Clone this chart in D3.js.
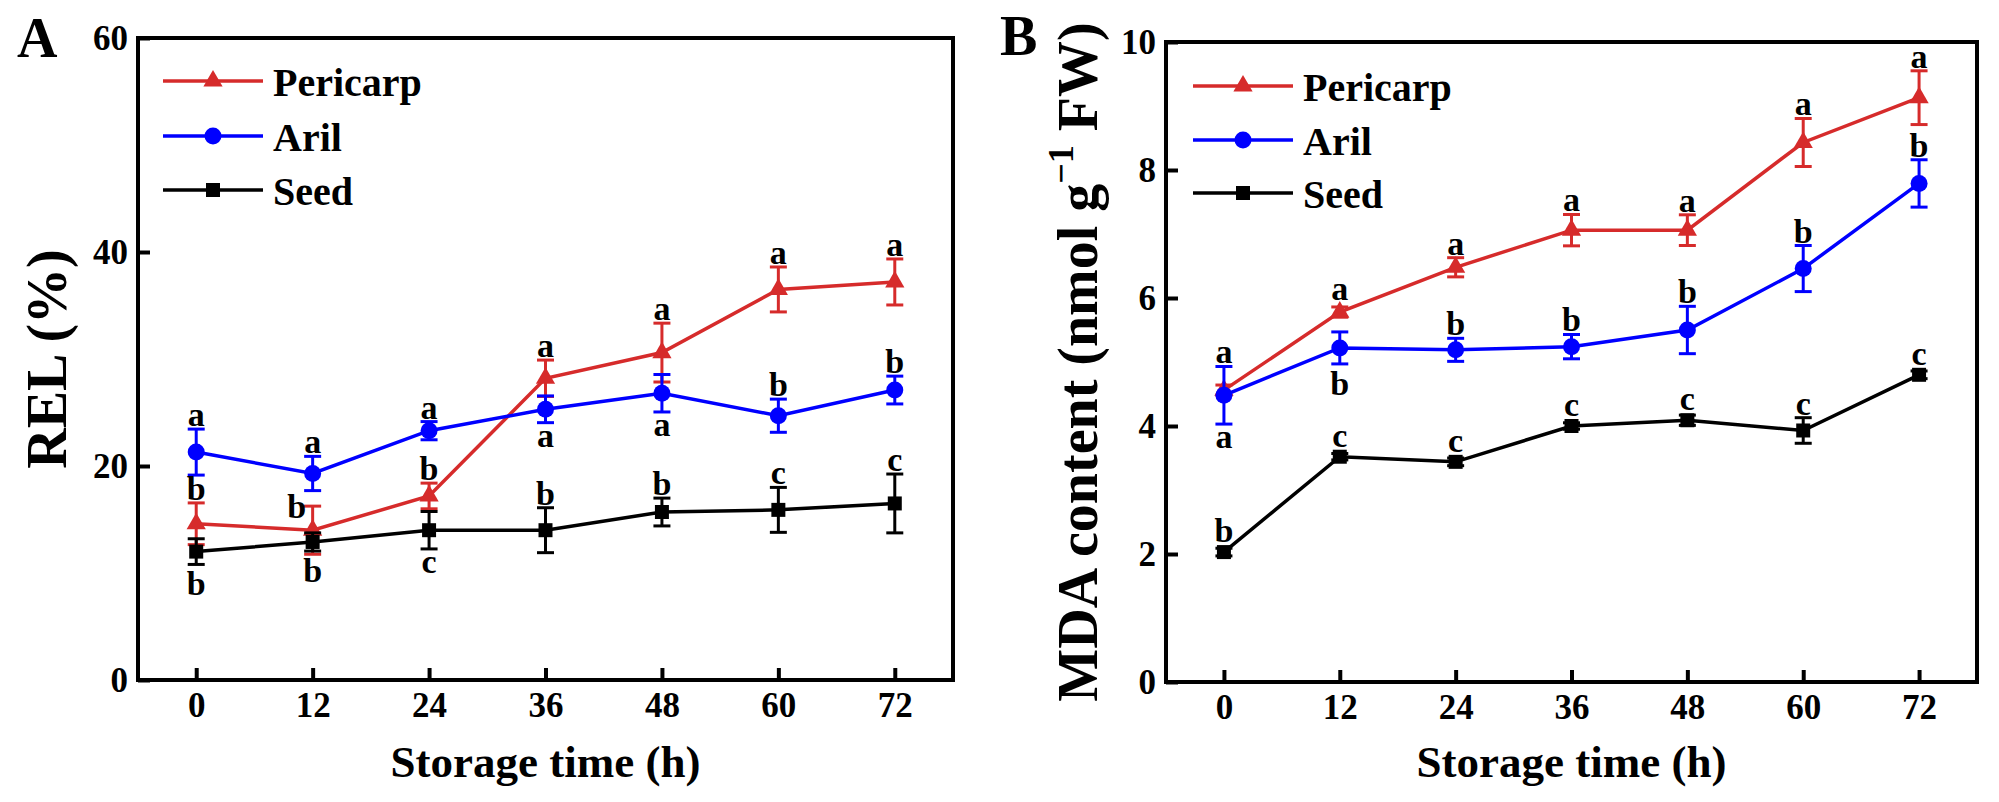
<!DOCTYPE html>
<html>
<head>
<meta charset="utf-8">
<script src="https://cdn.jsdelivr.net/npm/d3@7"></script>
<style>
body { margin: 0; background: #fff; }
text { font-family: "Liberation Serif", "Times New Roman", serif; font-weight: bold; fill: #000; }
</style>
</head>
<body>
<svg id="chart" width="1999" height="802"></svg>
<script>
var hours = [0, 12, 24, 36, 48, 60, 72];
var seriesNames = ["Pericarp", "Aril", "Seed"];

// panel A, REL (%)
var relPericarp = [14.6, 14.0, 17.2, 28.2, 30.6, 36.5, 37.2];
var relPericarpErr = [1.95, 2.25, 1.2, 1.7, 2.75, 2.1, 2.15];
var relAril = [21.3, 19.3, 23.3, 25.3, 26.8, 24.7, 27.1];
var relArilErr = [2.15, 1.6, 0.85, 1.25, 1.75, 1.55, 1.3];
var relSeed = [12.0, 12.9, 14.0, 14.0, 15.7, 15.9, 16.5];
var relSeedErr = [1.2, 0.85, 1.75, 2.1, 1.3, 2.1, 2.75];
var relPericarpLetters = ["b", "b", "b", "a", "a", "a", "a"];
var relArilLetters = ["a", "a", "a", "a", "a", "b", "b"];
var relSeedLetters = ["b", "b", "c", "b", "b", "c", "c"];
var relTicks = [0, 20, 40, 60];

// panel B, MDA content
var mdaPericarp = [4.56, 5.78, 6.48, 7.06, 7.06, 8.43, 9.13];
var mdaPericarpErr = [0.08, 0.08, 0.15, 0.245, 0.24, 0.375, 0.42];
var mdaAril = [4.48, 5.22, 5.19, 5.24, 5.50, 6.46, 7.79];
var mdaArilErr = [0.45, 0.25, 0.18, 0.19, 0.37, 0.36, 0.37];
var mdaSeed = [2.03, 3.52, 3.44, 4.00, 4.09, 3.93, 4.80];
var mdaSeedErr = [0.06, 0.05, 0.06, 0.05, 0.08, 0.2, 0.06];
var mdaPericarpLetters = ["a", "a", "a", "a", "a", "a", "a"];
var mdaArilLetters = ["a", "b", "b", "b", "b", "b", "b"];
var mdaSeedLetters = ["b", "c", "c", "c", "c", "c", "c"];
var mdaTicks = [0, 2, 4, 6, 8, 10];

// where a letter sits: up = over its own bar, down = under it,
// left = beside the top cap, top = over every bar at that time
var relPlace = {
  Pericarp: ["up", "left", "up", "up", "up", "up", "up"],
  Aril: ["up", "up", "up", "down", "down", "up", "up"],
  Seed: ["down", "down", "down", "up", "up", "up", "up"]
};
var mdaPlace = {
  Pericarp: ["top", "up", "up", "up", "up", "up", "up"],
  Aril: ["down", "down", "up", "up", "up", "up", "up"],
  Seed: ["up", "up", "up", "up", "up", "up", "up"]
};

var colors = { Pericarp: "#d62b2b", Aril: "#0000ff", Seed: "#000000" };
var symbols = { Pericarp: d3.symbolTriangle, Aril: d3.symbolCircle, Seed: d3.symbolSquare };
var symSize = { Pericarp: 160, Aril: 227, Seed: 196 };
var half = { Pericarp: 9, Aril: 8.5, Seed: 7 };

var svg = d3.select("#chart");
svg.append("rect").attr("width", 1999).attr("height", 802).attr("fill", "#fff");

function drawPanel(p) {
  var x = d3.scaleLinear().domain([-6, 78]).range([p.left, p.right]);
  var y = d3.scaleLinear().domain([0, p.ymax]).range([p.bottom, p.top]);
  var g = svg.append("g");

  var xAxis = g.append("g")
    .attr("transform", "translate(0," + p.bottom + ")")
    .call(d3.axisBottom(x).tickValues(hours).tickSizeInner(-12).tickSizeOuter(0).tickPadding(12));
  var yAxis = g.append("g")
    .attr("transform", "translate(" + p.left + ",0)")
    .call(d3.axisLeft(y).tickValues(p.ticks).tickSizeInner(-12).tickSizeOuter(0).tickPadding(10));
  [xAxis, yAxis].forEach(function (a) {
    a.select(".domain").remove();
    a.selectAll(".tick line").attr("stroke", "#000").attr("stroke-width", 4);
    a.selectAll(".tick text").style("font-size", "35px");
  });

  g.append("rect")
    .attr("x", p.left).attr("y", p.top)
    .attr("width", p.right - p.left).attr("height", p.bottom - p.top)
    .attr("fill", "none").attr("stroke", "#000").attr("stroke-width", 4);

  var line = d3.line().x(function (d) { return x(d.h); }).y(function (d) { return y(d.v); });

  seriesNames.forEach(function (name) {
    var pts = hours.map(function (h, i) {
      return { h: h, v: p.values[name][i], e: p.errors[name][i] };
    });
    var s = g.append("g");
    s.append("path").datum(pts).attr("d", line)
      .attr("fill", "none").attr("stroke", colors[name]).attr("stroke-width", 3.5);
    var eb = s.selectAll(".err").data(pts).enter().append("g");
    eb.append("line")
      .attr("x1", function (d) { return x(d.h); }).attr("x2", function (d) { return x(d.h); })
      .attr("y1", function (d) { return y(d.v - d.e); }).attr("y2", function (d) { return y(d.v + d.e); });
    eb.append("line")
      .attr("x1", function (d) { return x(d.h) - 8.5; }).attr("x2", function (d) { return x(d.h) + 8.5; })
      .attr("y1", function (d) { return y(d.v + d.e); }).attr("y2", function (d) { return y(d.v + d.e); });
    eb.append("line")
      .attr("x1", function (d) { return x(d.h) - 8.5; }).attr("x2", function (d) { return x(d.h) + 8.5; })
      .attr("y1", function (d) { return y(d.v - d.e); }).attr("y2", function (d) { return y(d.v - d.e); });
    eb.selectAll("line").attr("stroke", colors[name]).attr("stroke-width", 3);
    s.selectAll(".mk").data(pts).enter().append("path")
      .attr("d", d3.symbol().type(symbols[name]).size(symSize[name]))
      .attr("transform", function (d) { return "translate(" + x(d.h) + "," + y(d.v) + ")"; })
      .attr("fill", colors[name]);
  });

  // significance letters
  function topOf(name, i) {
    var v = p.values[name][i], e = p.errors[name][i];
    return Math.min(y(v + e), y(v) - half[name]);
  }
  seriesNames.forEach(function (name) {
    p.letters[name].forEach(function (ch, i) {
      var v = p.values[name][i], e = p.errors[name][i];
      var px = x(hours[i]), py;
      var place = p.place[name][i];
      if (place === "up") {
        py = topOf(name, i) - 3;
      } else if (place === "top") {
        py = d3.min(seriesNames, function (n) { return topOf(n, i); }) - 3;
      } else if (place === "left") {
        px -= 16;
        py = y(v + e) + 12;
      } else {
        py = Math.max(y(v - e), y(v) + half[name]) + 8 + (ch === "b" ? 23 : 16);
      }
      g.append("text").attr("x", px).attr("y", py)
        .attr("text-anchor", "middle").style("font-size", "34px").text(ch);
    });
  });

  // legend
  seriesNames.forEach(function (name, k) {
    var ry = p.legendRows[k];
    g.append("line").attr("x1", p.legendX).attr("x2", p.legendX + 100)
      .attr("y1", ry).attr("y2", ry)
      .attr("stroke", colors[name]).attr("stroke-width", 3.5);
    g.append("path")
      .attr("d", d3.symbol().type(symbols[name]).size(symSize[name]))
      .attr("transform", "translate(" + (p.legendX + 50) + "," + ry + ")")
      .attr("fill", colors[name]);
    g.append("text").attr("x", p.legendX + 110).attr("y", ry + 15)
      .style("font-size", "40px").text(name);
  });

  // titles
  g.append("text")
    .attr("x", (p.left + p.right) / 2).attr("y", 777)
    .attr("text-anchor", "middle").style("font-size", "45px")
    .text("Storage time (h)");
  var yt = g.append("text")
    .attr("transform", "translate(" + p.titleX + "," + ((p.top + p.bottom) / 2) + ") rotate(-90)")
    .attr("text-anchor", "middle").style("font-size", "56px");
  p.yTitle(yt);
  g.append("text").attr("x", p.labelX).attr("y", p.labelY)
    .style("font-size", "56px").text(p.label);
}

drawPanel({
  left: 138, right: 953, top: 38, bottom: 680, ymax: 60, ticks: relTicks,
  values: { Pericarp: relPericarp, Aril: relAril, Seed: relSeed },
  errors: { Pericarp: relPericarpErr, Aril: relArilErr, Seed: relSeedErr },
  letters: { Pericarp: relPericarpLetters, Aril: relArilLetters, Seed: relSeedLetters },
  place: relPlace,
  legendX: 163, legendRows: [81, 136, 190],
  titleX: 66, label: "A", labelX: 17, labelY: 57,
  yTitle: function (t) { t.text("REL (%)"); }
});

drawPanel({
  left: 1166, right: 1977, top: 42, bottom: 682, ymax: 10, ticks: mdaTicks,
  values: { Pericarp: mdaPericarp, Aril: mdaAril, Seed: mdaSeed },
  errors: { Pericarp: mdaPericarpErr, Aril: mdaArilErr, Seed: mdaSeedErr },
  letters: { Pericarp: mdaPericarpLetters, Aril: mdaArilLetters, Seed: mdaSeedLetters },
  place: mdaPlace,
  legendX: 1193, legendRows: [86, 140, 193],
  titleX: 1097, label: "B", labelX: 1000, labelY: 55,
  yTitle: function (t) {
    t.append("tspan").text("MDA content (nmol g");
    t.append("tspan").attr("dy", -24).style("font-size", "36px").text("\u22121");
    t.append("tspan").attr("dy", 24).text(" FW)");
  }
});
</script>
</body>
</html>
